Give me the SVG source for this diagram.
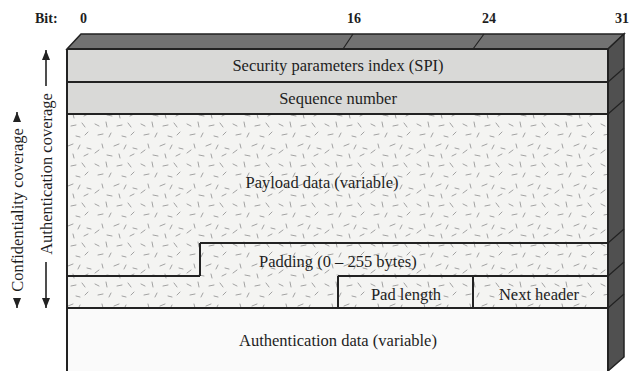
<svg xmlns="http://www.w3.org/2000/svg" width="629" height="371" viewBox="0 0 629 371">
<style>
text{font-family:"Liberation Serif","Times New Roman",serif;font-size:16.5px;fill:#1e1e1e}
.b{font-weight:bold;font-size:14px}
.ln{stroke:#222;stroke-width:2;fill:none}
.th{stroke:#222;stroke-width:1.2;fill:none}
.ar{stroke:#222;stroke-width:1.6}
</style>
<defs>
<pattern id="sp" width="46" height="40" patternUnits="userSpaceOnUse">
<rect width="46" height="40" fill="#f4f4f2"/>
<g stroke="#a2a2a2" stroke-width="1" stroke-linecap="round">
<path d="M3 4l4 2M14 2l1 5M25 6l5-1M36 3l3 4M42 12l-3 3M6 15l5-1M19 13l-2 4M30 16l4 1M10 24l1 4M22 26l5-2M34 25l-2 4M41 28l4 1M3 33l4-3M15 35l5 1M27 34l1 4M38 36l4-2"/>
</g>
</pattern>
<marker id="ah" viewBox="0 0 10 8" refX="10" refY="4" markerWidth="10" markerHeight="8" orient="auto-start-reverse" markerUnits="userSpaceOnUse">
<path d="M0 0L10 4L0 8z" fill="#222"/>
</marker>
</defs>
<rect width="629" height="371" fill="#fff"/>

<g id="bit-labels">
<text class="b" x="35" y="23">Bit:</text>
<text class="b" x="80" y="23">0</text>
<text class="b" x="347" y="23">16</text>
<text class="b" x="482" y="23">24</text>
<text class="b" x="615" y="23">31</text>
</g>

<g id="box-3d">
<path d="M67 49L81 34L624 34L608 49Z" fill="#727272" stroke="#222" stroke-width="1.5"/>
<path d="M608 49L624 34L624 357L608 371Z" fill="#505050" stroke="#222" stroke-width="1.5"/>
<path class="th" d="M343 49l10-15M473 49l11-15"/>
<path class="th" d="M608 82l16-14M608 114l16-14M608 243l16-14M608 276l16-14M608 308l16-14"/>
</g>

<g id="spi">
<rect x="67" y="49" width="541" height="33" fill="#d9d9d7"/>
<text x="338" y="71" text-anchor="middle">Security parameters index (SPI)</text>
</g>
<g id="seq">
<rect x="67" y="82" width="541" height="32" fill="#d9d9d7"/>
<text x="338" y="104" text-anchor="middle">Sequence number</text>
</g>
<g id="payload">
<path d="M67 114H608V243H200V276H67Z" fill="url(#sp)"/>
<text x="322" y="188" text-anchor="middle">Payload data (variable)</text>
</g>
<g id="padding">
<path d="M200 243H608V276H338V308H67V276H200Z" fill="url(#sp)"/>
<text x="259" y="267">Padding (0 – 255 bytes)</text>
</g>
<g id="padlen">
<rect x="338" y="276" width="135" height="32" fill="url(#sp)"/>
<text x="406" y="300" text-anchor="middle">Pad length</text>
</g>
<g id="nexthdr">
<rect x="473" y="276" width="135" height="32" fill="url(#sp)"/>
<text x="539" y="300" text-anchor="middle">Next header</text>
</g>
<g id="authdata">
<rect x="67" y="308" width="541" height="70" fill="#fafafa"/>
<text x="338" y="346" text-anchor="middle">Authentication data (variable)</text>
</g>

<g id="lines">
<path class="ln" d="M67 49H608M67 82H608M67 114H608M200 243H608M67 276H200M200 243V276M338 276H608M338 276V308M473 276V308M67 308H608"/>
<path class="ln" d="M67 49V371M608 49V371"/>
</g>

<g id="coverage">
<line class="ar" x1="17" y1="112" x2="17" y2="120" marker-start="url(#ah)"/>
<line class="ar" x1="17" y1="299" x2="17" y2="308" marker-end="url(#ah)"/>
<text transform="translate(23 210) rotate(-90)" text-anchor="middle">Confidentiality coverage</text>
<line class="ar" x1="46" y1="50" x2="46" y2="86" marker-start="url(#ah)"/>
<line class="ar" x1="46" y1="262" x2="46" y2="308" marker-end="url(#ah)"/>
<text transform="translate(52 174) rotate(-90)" text-anchor="middle">Authentication coverage</text>
</g>
</svg>
